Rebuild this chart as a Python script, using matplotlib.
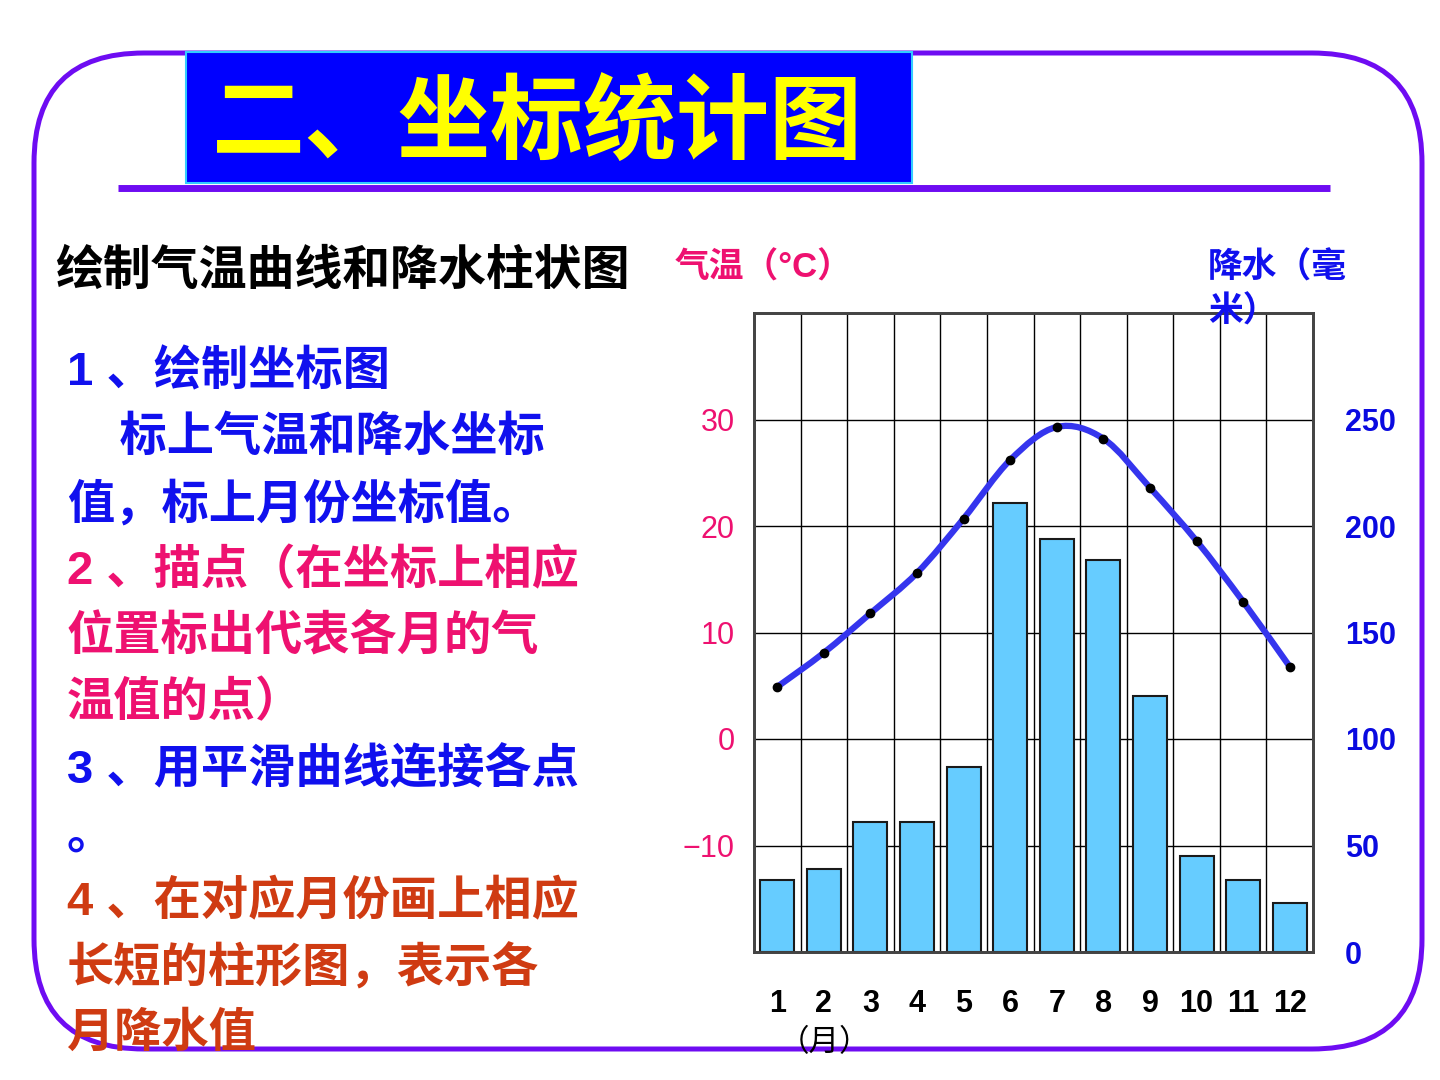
import numpy as np
import matplotlib.pyplot as plt
from matplotlib.path import Path
from matplotlib.patches import PathPatch, FancyBboxPatch, Rectangle

# data
months = [1, 2, 3, 4, 5, 6, 7, 8, 9, 10, 11, 12]
month_labels = ['1', '2', '3', '4', '5', '6', '7', '8', '9', '10', '11', '12']
temp_c = [4.9, 8.1, 11.8, 15.6, 20.7, 26.2, 29.3, 28.2, 23.6, 18.6, 12.9, 6.8]
precip_mm = [34, 39, 61, 61, 87, 211, 194, 184, 120, 45, 34, 23]
temp_ticks = [-10, 0, 10, 20, 30]
precip_ticks = [0, 50, 100, 150, 200, 250]

title = '二、坐标统计图'
heading = '绘制气温曲线和降水柱状图'
steps = ['1 、绘制坐标图',
         '    标上气温和降水坐标',
         '值，标上月份坐标值。',
         '2 、描点（在坐标上相应',
         '位置标出代表各月的气',
         '温值的点）',
         '3 、用平滑曲线连接各点',
         '。',
         '4 、在对应月份画上相应',
         '长短的柱形图，表示各',
         '月降水值']

BLUE = '#1010EE'
PINK = '#EE1170'
BROWN = '#CF3B12'
PURPLE = '#6E0CF2'
step_colors = [BLUE, BLUE, BLUE, PINK, PINK, PINK, BLUE, BLUE, BROWN, BROWN, BROWN]

W, H = 1440, 1080
CJK = ['Liberation Sans', 'Noto Sans CJK SC']
plt.rcParams['font.family'] = CJK

fig = plt.figure(figsize=(14.4, 10.8), dpi=100)


def ftext(x, y, s, **kw):
    # place text by pixel position on the slide
    return fig.text(x / W, 1 - y / H, s, **kw)


# slide decoration (pixel coordinates)
bg = fig.add_axes([0, 0, 1, 1], zorder=-1)
bg.set_xlim(0, W)
bg.set_ylim(H, 0)
bg.axis('off')
bg.add_patch(FancyBboxPatch((34, 53), 1388, 996,
                            boxstyle='round,pad=0,rounding_size=110',
                            fill=False, edgecolor=PURPLE, lw=3.6))
bg.plot([118, 1330], [188, 188], color=PURPLE, lw=5, solid_capstyle='butt')
bg.add_patch(Rectangle((186, 52), 726, 131, facecolor='#0000FF',
                       edgecolor='#33CCFF', lw=1.5, zorder=3))

# chart
ax = fig.add_axes([754 / W, 1 - 952 / H, (1313 - 754) / W, (952 - 313) / H])
ax.set_xlim(0.5, 12.5)
ax.set_ylim(-20, 40)
ax.set_xticks(months)
ax.set_xticklabels(month_labels, fontsize=22, fontweight='bold',
                   family='Liberation Sans')
ax.set_xticks(np.arange(1.5, 12, 1), minor=True)
ax.set_yticks(temp_ticks)
ax.grid(which='minor', axis='x', color='black', lw=1)
ax.grid(which='major', axis='y', color='black', lw=1)
ax.tick_params(axis='x', which='both', length=0, pad=27)
ax.tick_params(axis='y', length=0, pad=14, labelcolor=PINK, labelsize=22)
for t in ax.get_yticklabels():
    t.set_family('Liberation Sans')

ax2 = ax.twinx()
ax2.set_ylim(0, 300)
ax2.set_yticks(precip_ticks)
ax2.tick_params(axis='y', length=0, pad=23, labelcolor='#0A0AE0', labelsize=22)
for t in ax2.get_yticklabels():
    t.set_fontweight('bold')
    t.set_family('Liberation Sans')
ax2.bar(months, precip_mm, width=0.73, color='#66CCFF', edgecolor='#1a1a1a', lw=1.5)

for a in (ax, ax2):
    for sp in a.spines.values():
        sp.set_color('#444444')
        sp.set_linewidth(2)

# smooth temperature curve through the monthly points
pts = np.column_stack([months, temp_c]).astype(float)
n = len(pts)
verts = [pts[0]]
codes = [Path.MOVETO]
for i in range(n - 1):
    p0, p1 = pts[max(i - 1, 0)], pts[i]
    p2, p3 = pts[i + 1], pts[min(i + 2, n - 1)]
    verts += [p1 + (p2 - p0) / 6, p2 - (p3 - p1) / 6, p2]
    codes += [Path.CURVE4] * 3
ax.add_patch(PathPatch(Path(verts, codes), fill=False, edgecolor='#3535EE',
                       lw=4.5, capstyle='round', zorder=3))
ax.plot(months, temp_c, 'o', color='black', ms=6, zorder=4)

# texts
ftext(537, 125, title, color='#FFFF00', fontsize=67, fontweight='heavy',
      family='Noto Sans CJK SC', ha='center', va='center', zorder=5)
ftext(55, 272, heading, color='black', fontsize=34.5, fontweight='bold',
      ha='left', va='center')
ftext(675, 268, '气温（°C）', color=PINK, fontsize=25, fontweight='bold',
      ha='left', va='center')
ftext(1208, 268, '降水（毫', color=BLUE, fontsize=25, fontweight='bold',
      ha='left', va='center')
ftext(1208, 312, '米）', color=BLUE, fontsize=25, fontweight='bold',
      ha='left', va='center')
ftext(825, 1043, '（月）', color='black', fontsize=22, ha='center', va='center')

for i, (s, c) in enumerate(zip(steps, step_colors)):
    ftext(67, 373 + 66.2 * i, s, color=c, fontsize=34, fontweight='bold',
          ha='left', va='center')

fig.savefig('out.png', dpi=100, facecolor='white')
